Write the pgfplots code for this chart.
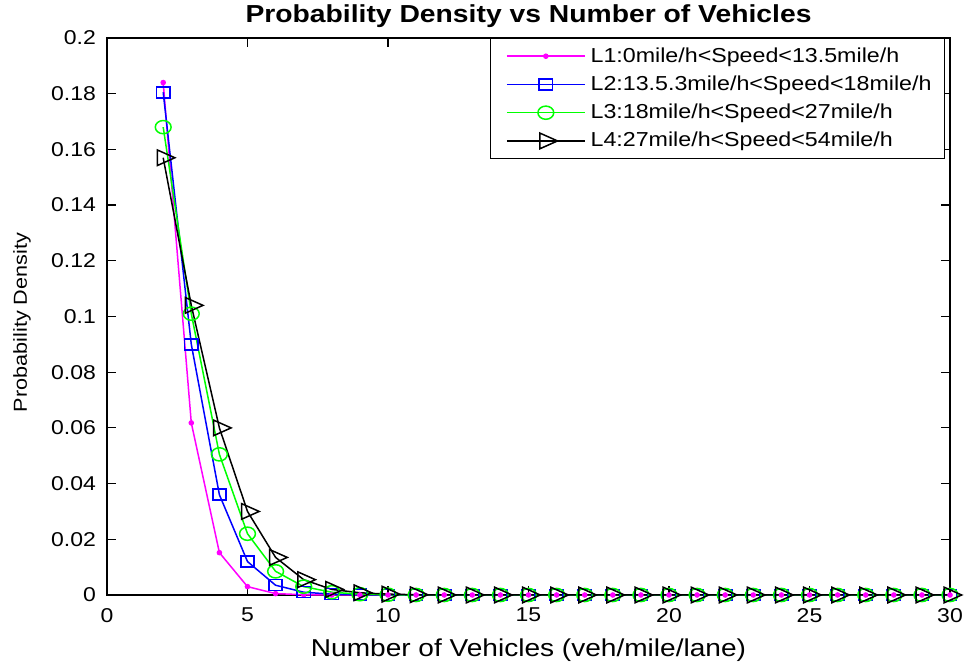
\documentclass[border=0pt]{standalone}
\usepackage{fontspec}
\setmainfont{Liberation Sans}[FakeStretch=1.15]
\usepackage{pgfplots}
\pgfplotsset{compat=1.18}
\definecolor{mag}{RGB}{255,0,255}
\definecolor{blu}{RGB}{0,0,255}
\definecolor{grn}{RGB}{0,255,0}
\begin{document}
\begin{tikzpicture}
\begin{axis}[
  width=421.5pt, height=278.5pt, scale only axis,
  xmin=0, xmax=30, ymin=0, ymax=0.2,
  xtick={0,5,...,30}, ytick={0,0.02,...,0.2},
  tick align=inside, tick pos=both,
  axis line style={line width=0.6pt}, tick style={line width=0.6pt, black},
  yticklabel style={/pgf/number format/fixed,/pgf/number format/precision=2, xshift=-2pt},
  xticklabel style={yshift=-3pt},
  /pgf/number format/assume math mode=true,
  ticklabel style={font=\fontsize{10}{11}\selectfont},
  xlabel={Number of Vehicles (veh/mile/lane)},
  ylabel={Probability Density},
  xlabel style={font=\fontsize{12.2}{13}\selectfont, at={(axis description cs:0.5,0)}, anchor=center, yshift=-27.5pt},
  ylabel style={font=\fontsize{9.4}{11}\selectfont, at={(axis description cs:0,0.5)}, anchor=center, yshift=42.5pt, xshift=-3pt},
  title={\textbf{Probability Density vs Number of Vehicles}},
  title style={font=\fontsize{12.3}{13}\selectfont, at={(axis description cs:0.5,1)}, anchor=center, yshift=5pt},
  legend style={at={(0.994,1)}, anchor=north east, font=\fontsize{10.1}{12}\selectfont,
    draw=black, row sep=1.3pt, inner xsep=4.5pt, inner ysep=2.5pt},
  legend cell align=left,
  legend image code/.code={\path (0pt,0pt) (43pt,0pt);
    \draw[mark repeat=2,mark phase=2] plot coordinates {(3.5pt,0pt)(23pt,0pt)(42.5pt,0pt)};},
  every axis plot/.append style={line width=0.75pt},
  clip=false,
]
\coordinate (bl) at (rel axis cs:0,0);
\coordinate (tr) at (rel axis cs:1,1);
\addplot[mag, mark=*, mark size=1pt] coordinates {
(2,0.184)(3,0.0618)(4,0.0152)(5,0.003)(6,0.0005)(7,0.0001)(8,0)(9,0)(10,0)
(11,0)(12,0)(13,0)(14,0)(15,0)(16,0)(17,0)(18,0)(19,0)(20,0)
(21,0)(22,0)(23,0)(24,0)(25,0)(26,0)(27,0)(28,0)(29,0)(30,0)};
\addlegendentry{L1:0mile/h<Speed<13.5mile/h}
\addplot[blu, mark=square, mark size=2.75pt, mark options={xscale=1.2}] coordinates {
(2,0.1805)(3,0.090)(4,0.036)(5,0.012)(6,0.0035)(7,0.001)(8,0.0003)(9,0.0001)(10,0)
(11,0)(12,0)(13,0)(14,0)(15,0)(16,0)(17,0)(18,0)(19,0)(20,0)
(21,0)(22,0)(23,0)(24,0)(25,0)(26,0)(27,0)(28,0)(29,0)(30,0)};
\addlegendentry{L2:13.5.3mile/h<Speed<18mile/h}
\addplot[grn, mark=o, mark size=3.3pt, mark options={xscale=1.2}] coordinates {
(2,0.168)(3,0.101)(4,0.0505)(5,0.022)(6,0.0085)(7,0.003)(8,0.001)(9,0.0003)(10,0.0001)
(11,0)(12,0)(13,0)(14,0)(15,0)(16,0)(17,0)(18,0)(19,0)(20,0)
(21,0)(22,0)(23,0)(24,0)(25,0)(26,0)(27,0)(28,0)(29,0)(30,0)};
\addlegendentry{L3:18mile/h<Speed<27mile/h}
\addplot[black, mark=triangle, mark size=4.5pt, mark options={xscale=1.3, rotate=-90}] coordinates {
(2,0.157)(3,0.104)(4,0.060)(5,0.030)(6,0.0135)(7,0.0055)(8,0.002)(9,0.0008)(10,0.0003)
(11,0.0001)(12,0)(13,0)(14,0)(15,0)(16,0)(17,0)(18,0)(19,0)(20,0)
(21,0)(22,0)(23,0)(24,0)(25,0)(26,0)(27,0)(28,0)(29,0)(30,0)};
\addlegendentry{L4:27mile/h<Speed<54mile/h}
\end{axis}
\pgfresetboundingbox
\useasboundingbox ([shift={(-53.5pt,-36.5pt)}]bl) rectangle ([shift={(7pt,19pt)}]tr);
\end{tikzpicture}
\end{document}
